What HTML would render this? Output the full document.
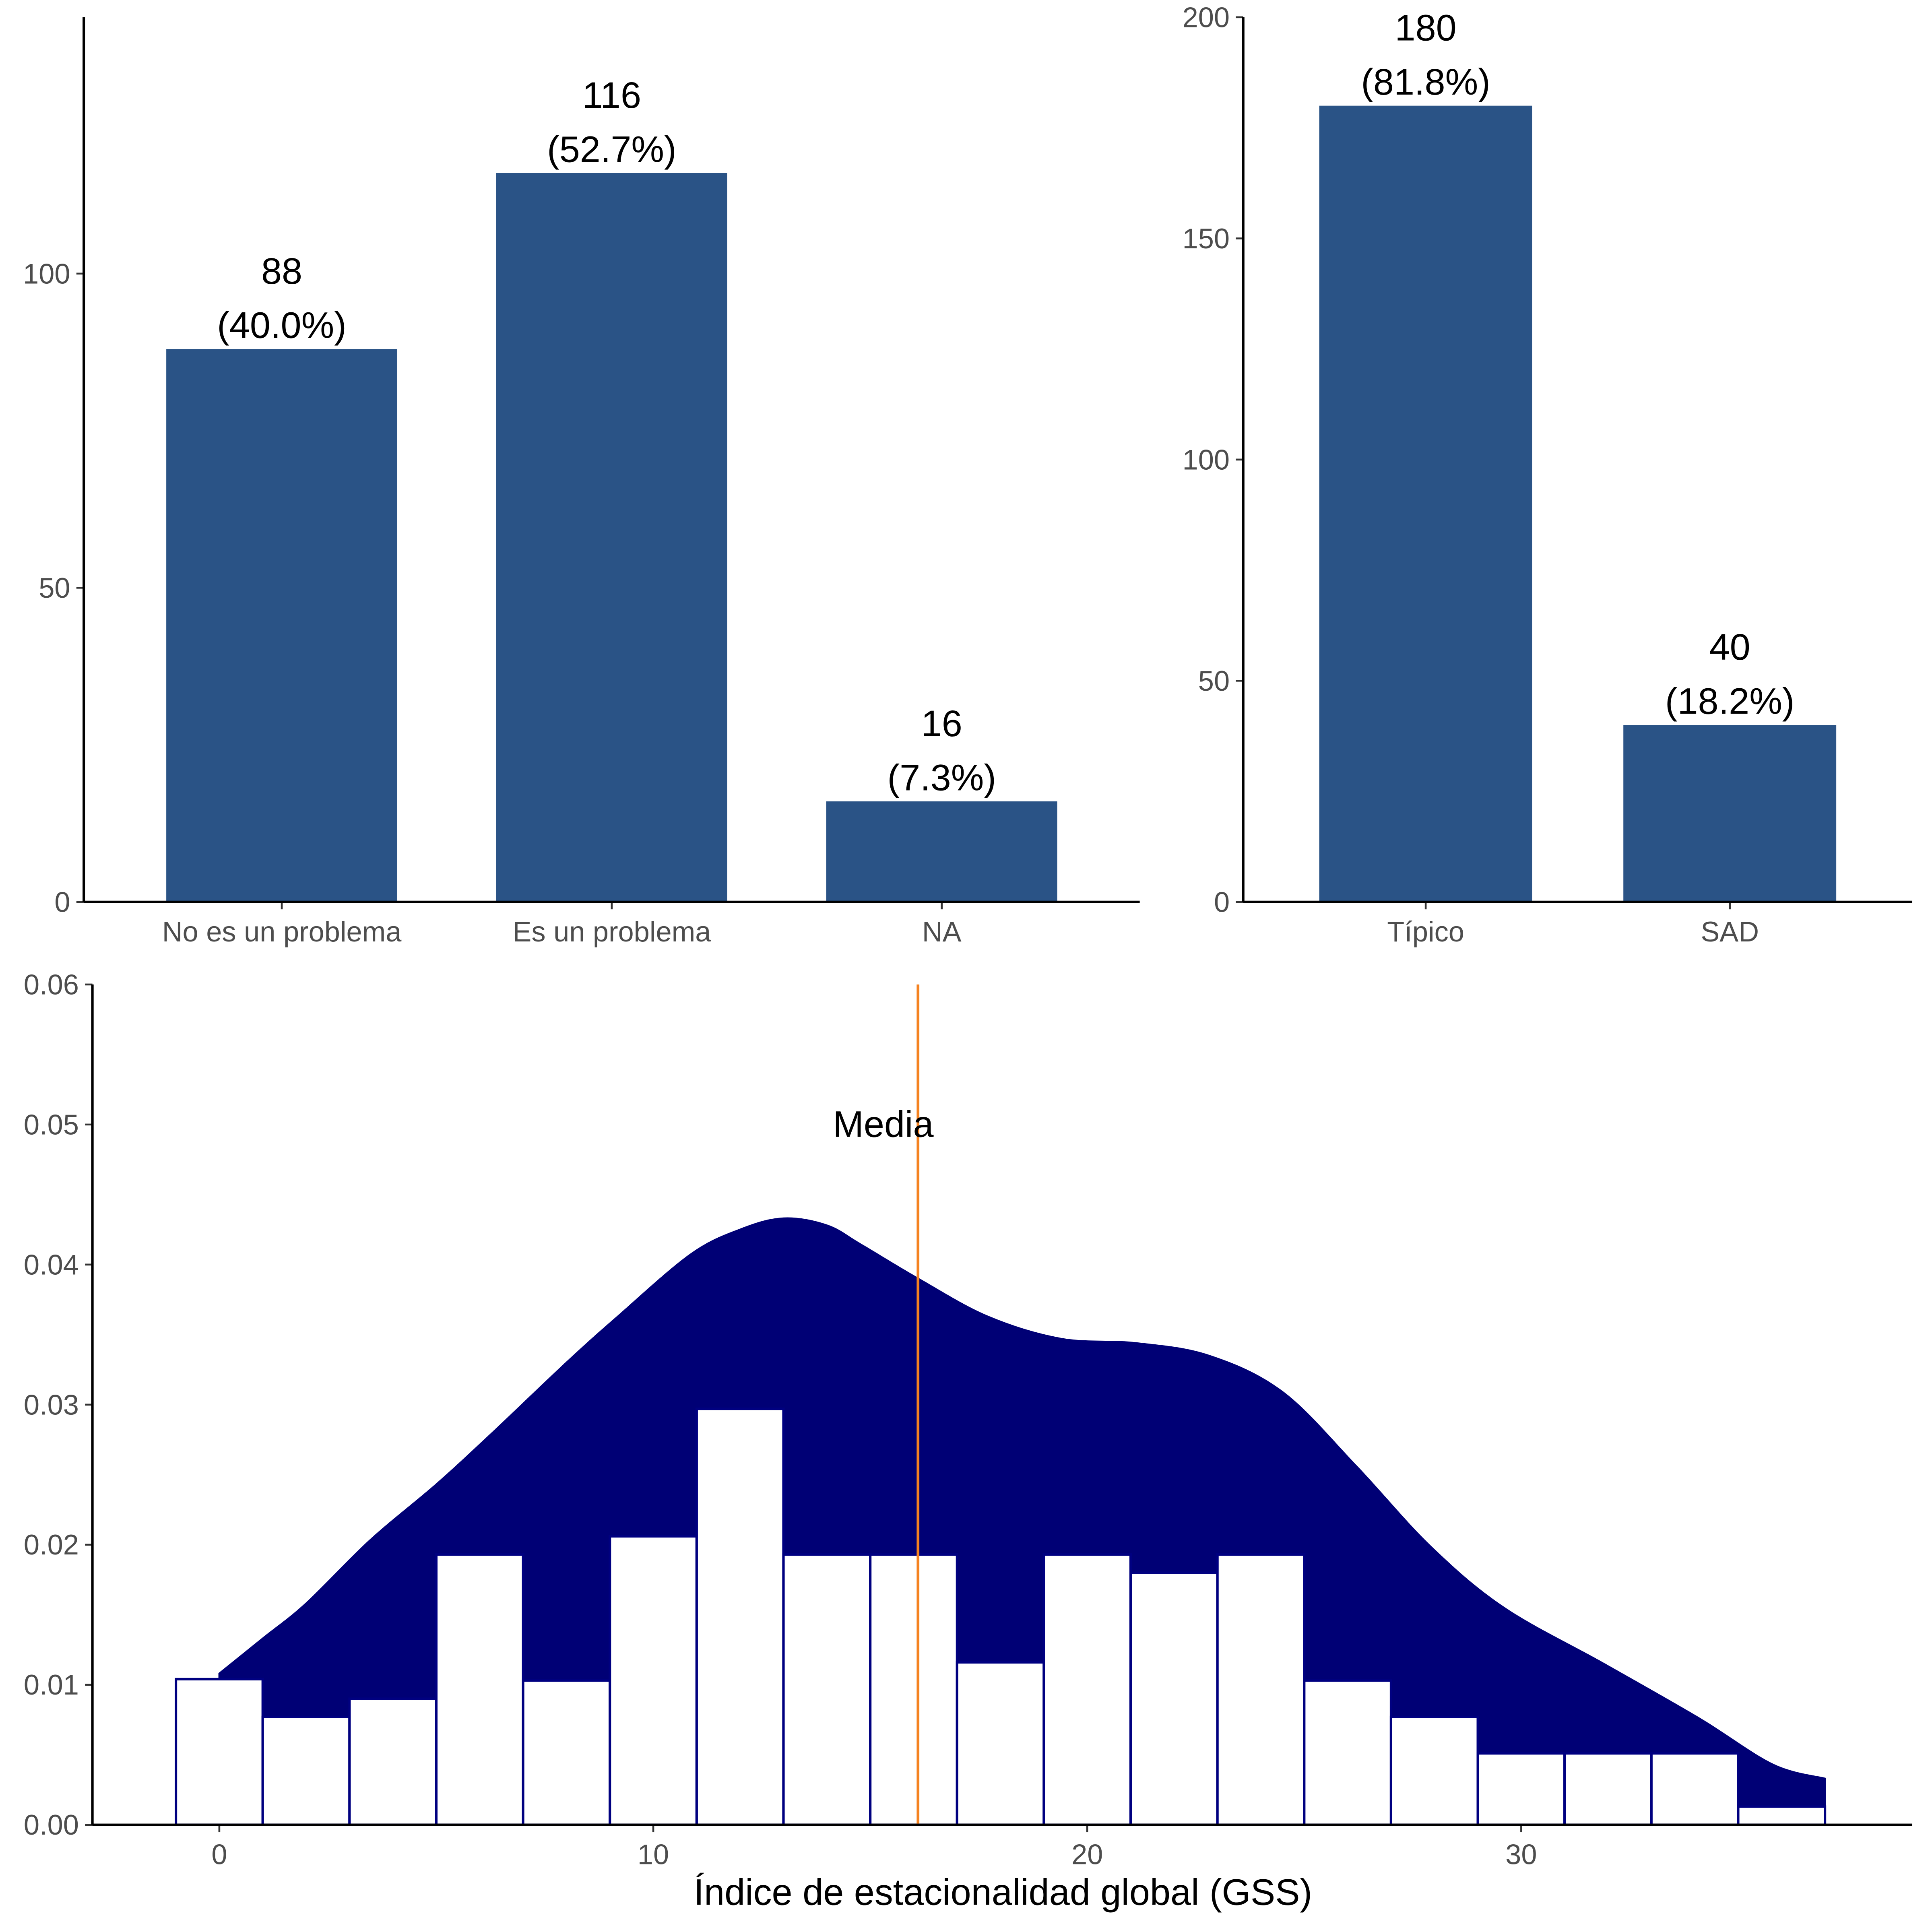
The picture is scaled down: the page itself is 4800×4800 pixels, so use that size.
<!DOCTYPE html>
<html><head><meta charset="utf-8"><style>
html,body{margin:0;padding:0;background:#fff}
svg{display:block}
text{font-family:"Liberation Sans",Arial,sans-serif}
</style></head><body>
<svg id="chart" width="4800" height="4800" viewBox="0 0 1568 1568" xmlns="http://www.w3.org/2000/svg"></svg>
<script>
// Panel A data
const catsA = ["No es un problema","Es un problema","NA"];
const valsA = [88,116,16];
const pctA = ["(40.0%)","(52.7%)","(7.3%)"];
const ticksA = [0,50,100];
// Panel B data
const catsB = ["Típico","SAD"];
const valsB = [180,40];
const pctB = ["(81.8%)","(18.2%)"];
const ticksB = [0,50,100,150,200];
// Panel C data
const histCenters = [0,2,4,6,8,10,12,14,16,18,20,22,24,26,28,30,32,34,36];
const histVals = [0.0104,0.0077,0.0090,0.0193,0.0103,0.0206,0.0297,0.0193,0.0193,0.0116,0.0193,0.0180,0.0193,0.0103,0.0077,0.0051,0.0051,0.0051,0.0013];
const densX = [0,1,2,3.47,5,6.3,8,9.15,10.85,12,13,14,14.8,16.1,17.7,19.4,21.1,22.8,24.5,26.2,27.9,29.6,31.9,34.1,35.8,37];
const densY = [0.0108,0.0133,0.0158,0.0203,0.0243,0.0280,0.0330,0.0362,0.0407,0.0425,0.0433,0.0428,0.0414,0.0390,0.0363,0.0347,0.0344,0.0335,0.0309,0.0256,0.0199,0.0155,0.0115,0.0076,0.0043,0.0033];
const meanVal = 16.1;
const ticksCY = [0,0.01,0.02,0.03,0.04,0.05,0.06];
const ticksCX = [0,10,20,30];

const svg = document.getElementById('chart');
const NS = "http://www.w3.org/2000/svg";
const TICK=23, LAB=30;
function mk(tag, attrs, parent){const e=document.createElementNS(NS,tag);for(const k in attrs)e.setAttribute(k,attrs[k]);(parent||svg).appendChild(e);return e;}
function txt(s,x,y,size,fill,anchor,parent){const t=mk('text',{x:x,y:y,'font-size':size,fill:fill,'text-anchor':anchor||'middle'},parent);t.textContent=s;return t;}

function barPanel(name,cats,vals,pcts,ticks,x0,x1,yb,yt,ymax){
  const g=mk('g',{});
  
  
  const step=(x1-x0)/(cats.length+0.2);
  const xs=i=>x0+(i+1-0.4)*step;
  const ys=v=>yb-(yb-yt)*v/ymax;
  const bw=0.7*step;
  cats.forEach((c,i)=>{
    const r=mk('rect',{x:xs(i)-bw/2,y:ys(vals[i]),width:bw,height:yb-ys(vals[i]),fill:'#2a5386'},g);
    
    
    const l1=txt(String(vals[i]),xs(i),ys(vals[i])-53,LAB,'#000','middle',g);
    
    
    const l2=txt(pcts[i],xs(i),ys(vals[i])-9,LAB,'#000','middle',g);
    
    
    mk('line',{x1:xs(i),x2:xs(i),y1:yb,y2:yb+6,stroke:'#333','stroke-width':1.5},g);
    const tl=txt(c,xs(i),yb+32,TICK,'#4d4d4d','middle',g);
    
    
  });
  ticks.forEach(t=>{
    mk('line',{x1:x0-6,x2:x0,y1:ys(t),y2:ys(t),stroke:'#333','stroke-width':1.5},g);
    const tl=txt(String(t),x0-11,ys(t)+8,TICK,'#4d4d4d','end',g);
    
    
  });
  mk('line',{x1:x0,x2:x0,y1:yt,y2:yb,stroke:'#000','stroke-width':2},g);
  mk('line',{x1:x0,x2:x1,y1:yb,y2:yb,stroke:'#000','stroke-width':2},g);
}
barPanel('panel-problema',catsA,valsA,pctA,ticksA,68,925,732,14,140.8);
barPanel('panel-tipo',catsB,valsB,pctB,ticksB,1009,1552,732,14,200);

// ---------- Panel C ----------
(function(){
  const g=mk('g',{});
  
  
  const x0=75,x1=1552,yb=1481,yt=799;
  const xs=v=>178+v*35.22;
  const ys=v=>yb-(yb-yt)*v/0.06;
  const P=densX.map((x,i)=>[xs(x),ys(densY[i])]);
  let d='M'+P[0][0]+','+yb+' L'+P[0][0]+','+P[0][1];
  for(let i=0;i<P.length-1;i++){
    const p0=P[Math.max(0,i-1)],p1=P[i],p2=P[i+1],p3=P[Math.min(P.length-1,i+2)];
    const c1=[p1[0]+(p2[0]-p0[0])/6,p1[1]+(p2[1]-p0[1])/6];
    const c2=[p2[0]-(p3[0]-p1[0])/6,p2[1]-(p3[1]-p1[1])/6];
    d+=' C'+c1[0]+','+c1[1]+' '+c2[0]+','+c2[1]+' '+p2[0]+','+p2[1];
  }
  d+=' L'+P[P.length-1][0]+','+yb+' Z';
  const p=mk('path',{d:d,fill:'#000075',stroke:'#000075','stroke-width':1.5},g);
  
  
  histCenters.forEach((c,i)=>{
    const r=mk('rect',{x:xs(c-1),y:ys(histVals[i]),width:xs(c+1)-xs(c-1),height:yb-ys(histVals[i]),fill:'#fff',stroke:'#000080','stroke-width':2},g);
    
    
  });
  const ml=mk('line',{x1:xs(meanVal),x2:xs(meanVal),y1:yt,y2:yb,stroke:'#f58220','stroke-width':2.2},g);
  
  
  const mt=txt('Media',xs(meanVal-0.8),ys(0.05)+10,LAB,'#000','middle',g);
  
  
  ticksCY.forEach(t=>{
    mk('line',{x1:x0-6,x2:x0,y1:ys(t),y2:ys(t),stroke:'#333','stroke-width':1.5},g);
    const tl=txt(t.toFixed(2),x0-11,ys(t)+8,TICK,'#4d4d4d','end',g);
    
    
  });
  ticksCX.forEach(t=>{
    mk('line',{x1:xs(t),x2:xs(t),y1:yb,y2:yb+6,stroke:'#333','stroke-width':1.5},g);
    const tl=txt(String(t),xs(t),yb+32,TICK,'#4d4d4d','middle',g);
    
    
  });
  mk('line',{x1:x0,x2:x0,y1:yt,y2:yb,stroke:'#000','stroke-width':2},g);
  mk('line',{x1:x0,x2:x1,y1:yb,y2:yb,stroke:'#000','stroke-width':2},g);
  const xt=txt('Índice de estacionalidad global (GSS)',814,1546,LAB,'#000','middle',g);
  
  
})();
</script>
</body></html>
